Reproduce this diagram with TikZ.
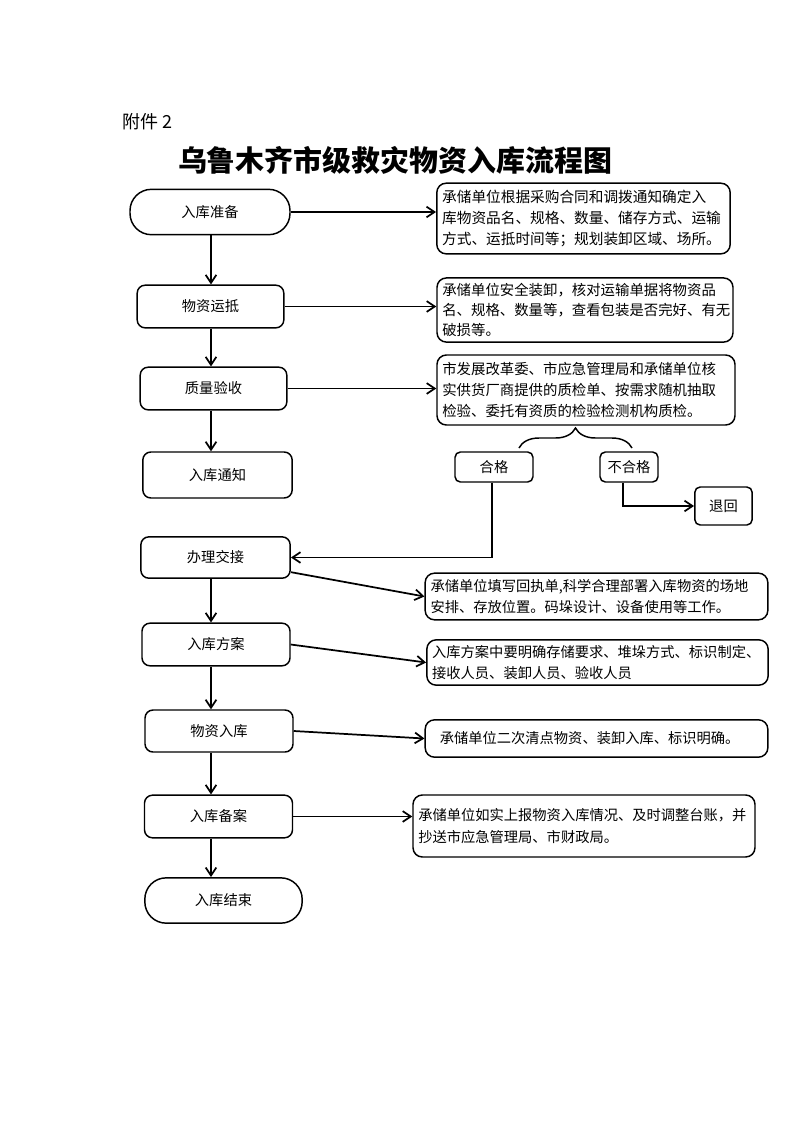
\documentclass[tikz,border=0pt]{standalone}
\usepackage{fontspec}
\setmainfont{Noto Sans CJK SC}
\usetikzlibrary{arrows.meta,decorations.pathreplacing}

\begin{document}
\begin{tikzpicture}[x=0.75pt, y=-0.75pt,
  >={Straight Barb[length=6pt,width=8pt]},
  stepbox/.style={draw, rounded corners=6pt, line width=1.1pt, inner sep=0pt,
    minimum width=111pt, minimum height=32pt, font=\fontsize{10.7}{13}\selectfont},
  termbox/.style={stepbox, rounded corners=16pt, minimum width=120pt, minimum height=34pt},
  smallbox/.style={stepbox, rounded corners=4pt, minimum height=22.5pt},
  notebox/.style={draw, rounded corners=7pt, line width=1.1pt, align=left, inner sep=4pt,
    font=\fontsize{10.7}{16}\selectfont},
  flow/.style={->, line width=1.3pt}]
  \useasboundingbox (0,0) rectangle (793,1122);

  \node (fj) [anchor=west, font=\fontsize{13.5}{16}\selectfont] at (118,122) {附件 2};
  \node (title) [font=\fontsize{21.7}{26}\selectfont\bfseries] at (395,160) {乌鲁木齐市级救灾物资入库流程图};

  % left column
  \node (zb) [termbox] at (210,212) {入库准备};
  \node (ys) [stepbox, minimum width=110pt] at (210.5,306.5) {物资运抵};
  \node (zl) [stepbox, minimum width=110pt] at (213.5,388.5) {质量验收};
  \node (tz) [stepbox, minimum width=112pt, minimum height=34.5pt] at (217.5,475) {入库通知};
  \node (bl) [stepbox, minimum width=112pt, minimum height=31pt] at (215.5,557.5) {办理交接};
  \node (fa) [stepbox] at (216,644.5) {入库方案};
  \node (wr) [stepbox, minimum height=31.5pt] at (219,731) {物资入库};
  \node (ba) [stepbox] at (218.5,816.5) {入库备案};
  \node (js) [termbox, minimum width=118pt] at (223.5,900.5) {入库结束};
  \coordinate (axis) at (211,0);

  % notes
  \node (d1) [notebox, font=\fontsize{11}{16}\selectfont, text width=212pt, minimum height=53pt] at (583.5,218.5)
    {承储单位根据采购合同和调拨通知确定入\\库物资品名、规格、数量、储存方式、运输\\方式、运抵时间等；规划装卸区域、场所。};
  \node (d2) [notebox, font=\fontsize{10.8}{15}\selectfont, text width=214pt, minimum height=45pt] at (585,310)
    {承储单位安全装卸，核对运输单据将物资品\\名、规格、数量等，查看包装是否完好、有无\\破损等。};
  \node (d3) [notebox, font=\fontsize{10.8}{15.5}\selectfont, text width=215.5pt, minimum height=52.5pt] at (586,390)
    {市发展改革委、市应急管理局和承储单位核\\实供货厂商提供的质检单、按需求随机抽取\\检验、委托有资质的检验检测机构质检。};
  \node (hg) [smallbox, minimum width=58.5pt] at (494,467) {合格};
  \node (bhg) [smallbox, minimum width=43.5pt] at (629,467) {不合格};
  \node (th) [smallbox, minimum width=43pt, minimum height=28.5pt] at (723.5,506) {退回};
  \node (d4) [notebox, text width=249pt, minimum height=35pt] at (596.5,596.5)
    {承储单位填写回执单,科学合理部署入库物资的场地\\安排、存放位置。码垛设计、设备使用等工作。};
  \node (d5) [notebox, text width=248pt, minimum height=34pt] at (597.5,662.5)
    {入库方案中要明确存储要求、堆垛方式、标识制定、\\接收人员、装卸人员、验收人员};
  \node (d6) [notebox, text width=249pt, minimum height=28pt] at (596.5,738.5)
    {\hspace{7pt}承储单位二次清点物资、装卸入库、标识明确。};
  \node (d7) [notebox, font=\fontsize{10.7}{17}\selectfont, text width=248.5pt, minimum height=46.5pt] at (584,826)
    {承储单位如实上报物资入库情况、及时调整台账，并\\抄送市应急管理局、市财政局。};

  \coordinate (bra) at (519,448);
  \coordinate (brb) at (632,448);
  \draw [decorate, decoration={brace, amplitude=15pt}, line width=1.1pt] (bra) -- (brb);

  \draw [flow] (zb.south -| axis) -- (ys.north -| axis);
  \draw [flow] (ys.south -| axis) -- (zl.north -| axis);
  \draw [flow] (zl.south -| axis) -- (tz.north -| axis);
  \draw [flow] (bl.south -| axis) -- (fa.north -| axis);
  \draw [flow] (fa.south -| axis) -- (wr.north -| axis);
  \draw [flow] (wr.south -| axis) -- (ba.north -| axis);
  \draw [flow] (ba.south -| axis) -- (js.north -| axis);

  \draw [flow] (zb.east) -- (zb.east -| d1.west);
  \draw [flow] (ys.east) -- (ys.east -| d2.west);
  \draw [flow] (zl.east) -- (zl.east -| d3.west);
  \draw [flow] (bl.-11) -- (d4.west);
  \draw [flow] (fa.east) -- (d5.west);
  \draw [flow] (wr.east) -- (d6.west);
  \draw [flow] (ba.east) -- (ba.east -| d7.west);

  \draw [flow] ([xshift=-1.5pt]hg.south) |- (bl.east);
  \draw [flow] ([xshift=-4.5pt]bhg.south) |- (th.west);
\end{tikzpicture}
\end{document}
